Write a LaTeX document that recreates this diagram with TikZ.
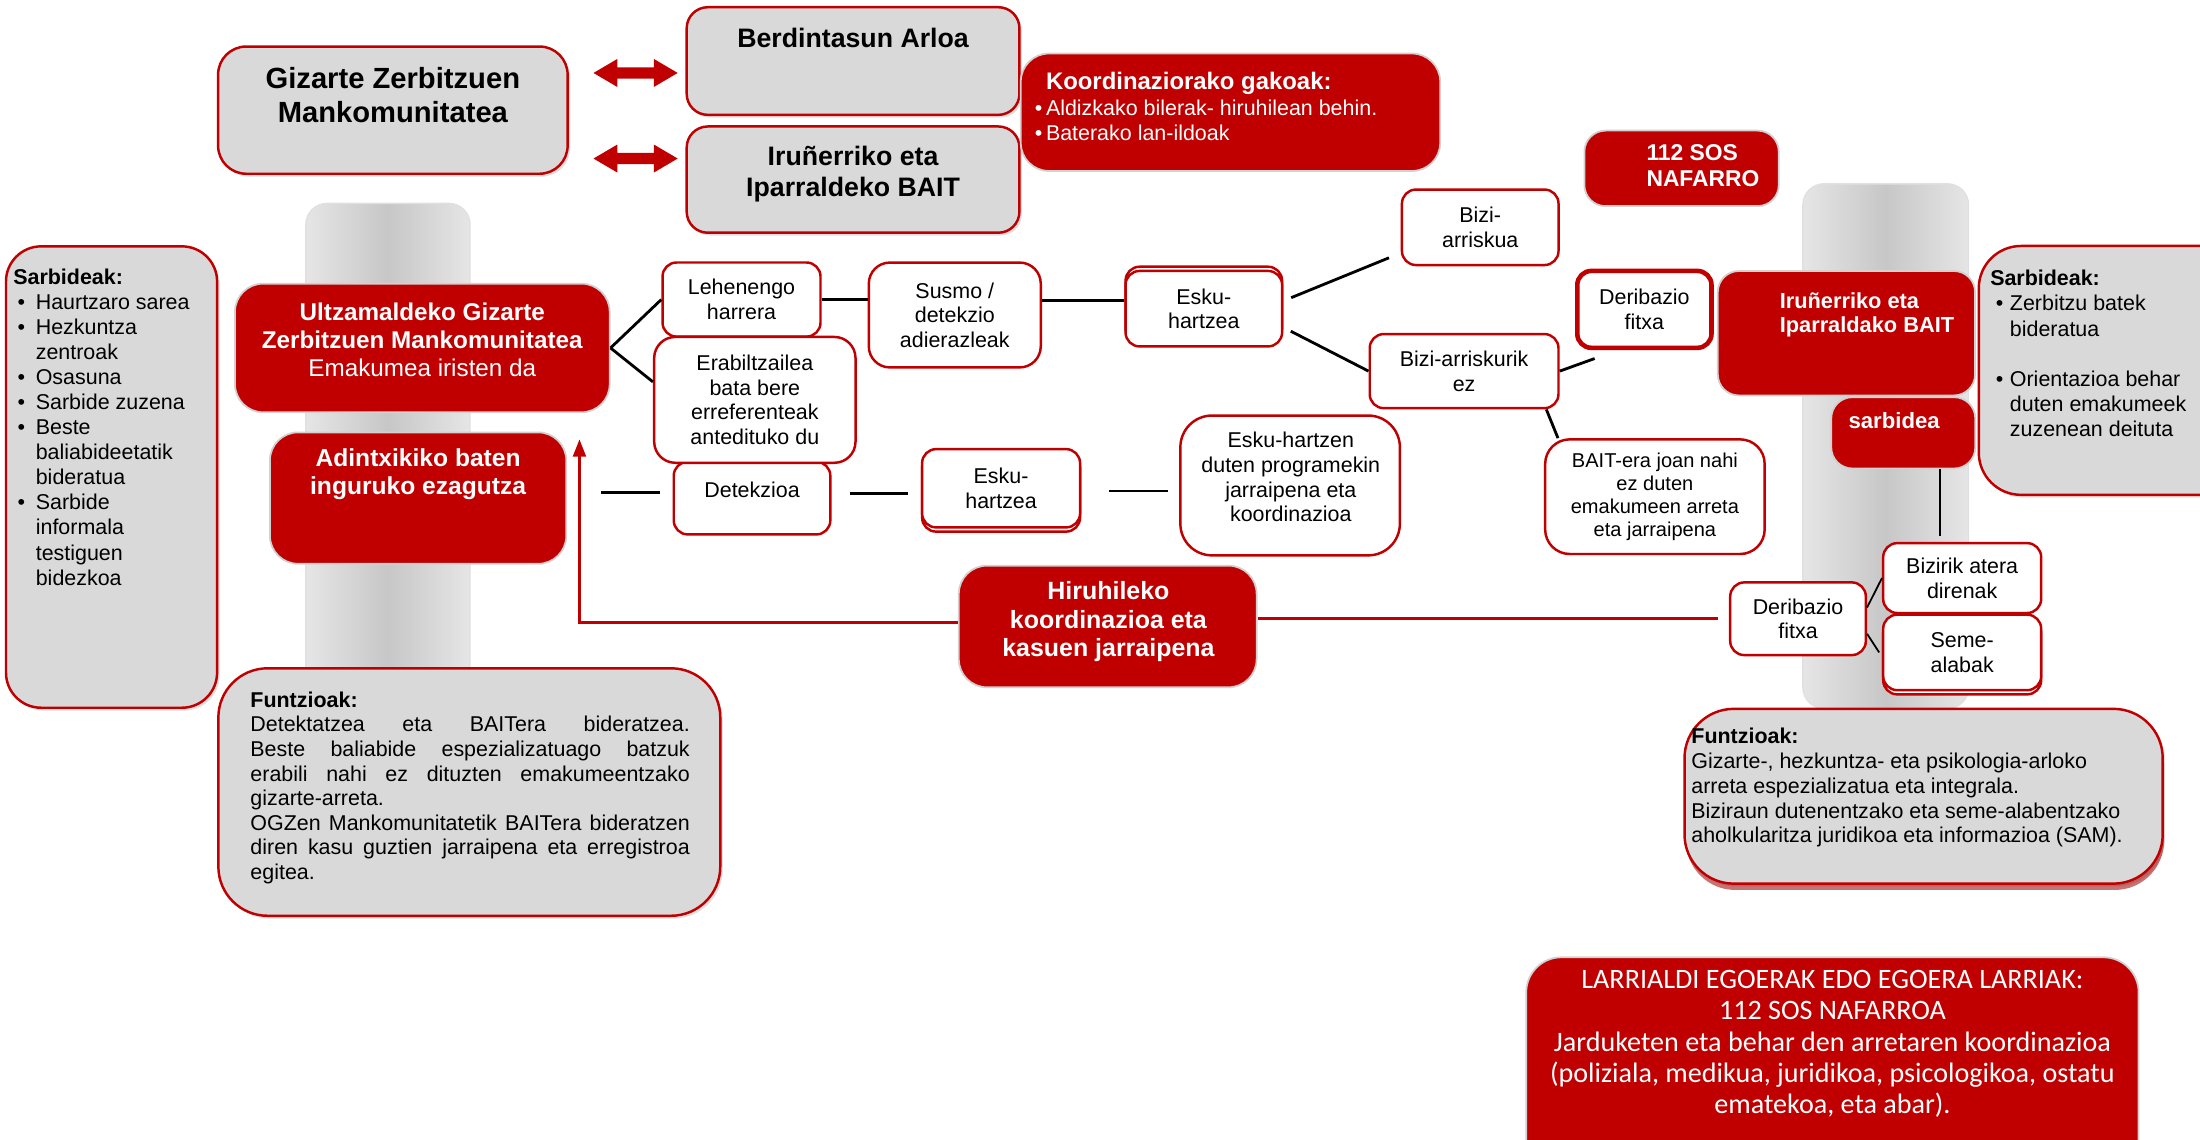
\documentclass[tikz,border=0pt]{standalone}
\usepackage{fontspec}
\setmainfont{Liberation Sans}
\newfontfamily\calib{Carlito}
\usetikzlibrary{calc,arrows.meta,shadows}
\definecolor{rd}{HTML}{C00000}
\definecolor{gr}{HTML}{D9D9D9}
\newcommand\myfs[2]{\fontsize{#1pt}{#2pt}\selectfont}
\newcommand\mybox[7]{\node[#1, minimum width={(#5-#3)*0.3978pt}, minimum height={(#6-#4)*0.3978pt}] (#2) at ({(#3+#5)/2},{(#4+#6)/2}) {#7};}
\newcommand\bulA{\makebox[3.2pt][l]{\textbullet}}
\newcommand\bulB{\hspace*{1.2pt}\makebox[5.2pt][l]{\textbullet}}
\newcommand\indB{\hspace*{6.4pt}}
\newcommand\bulC{\hspace*{1.6pt}\makebox[4pt][l]{\textbullet}}
\newcommand\indC{\hspace*{5.6pt}}
\newcommand\jl[1]{\makebox[125pt][s]{#1}}
\tikzset{
 wbox/.style={draw=rd, fill=white, line width=0.7pt, rounded corners=4pt, inner sep=0pt, align=center, font=\myfs{6.1}{7}},
 gbox/.style={draw=rd, fill=gr, line width=0.7pt, rounded corners=6pt, inner sep=0pt, drop shadow={opacity=0.25, shadow xshift=0.7pt, shadow yshift=-0.8pt}},
 rbox/.style={draw=black!18, fill=rd, line width=0.5pt, rounded corners=6pt, inner sep=0pt, text=white, align=center},
 txt/.style={inner sep=0pt, align=center},
 wtxt/.style={inner sep=0pt, align=center, text=white},
 conn/.style={line width=0.8pt, black},
 rconn/.style={line width=0.9pt, rd},
 bar/.style={left color=black!10, right color=black!10, middle color=black!22, draw=black!12, line width=0.4pt}
}
\begin{document}
\begin{tikzpicture}[x=0.14031mm, y=-0.14031mm]
\path[use as bounding box] (0,0) rectangle (1568,812);
\clip (0,0) rectangle (1568,812);
\fill[white] (0,0) rectangle (1568,812);

% background columns
\path[bar, rounded corners=6pt] (218,145) rectangle (335,500);
\path[bar, rounded corners=6pt] (1285,131) rectangle (1403,505);

% top row
\mybox{gbox, rounded corners=8pt}{giz}{155}{33}{405}{124}{}
\node[txt, font=\bfseries\myfs{8.3}{9.6}] (gizt) at (280,68) {Gizarte Zerbitzuen\\Mankomunitatea};
\mybox{gbox}{berd}{489}{5}{727}{82}{}
\node[txt, font=\bfseries\myfs{7.6}{8.6}] (berdt) at (608,27) {Berdintasun Arloa};
\mybox{gbox}{baitg}{489}{90}{727}{166}{}
\node[txt, font=\bfseries\myfs{7.6}{8.6}] (baitgt) at (608,124) {Iruñerriko eta\\Iparraldeko BAIT};

\fill[rd] (423,52) -- (440,42) -- (440,48) -- (466,48) -- (466,42) -- (483,52) -- (466,62) -- (466,56) -- (440,56) -- (440,62) -- cycle;
\fill[rd] (423,113) -- (440,103) -- (440,109) -- (466,109) -- (466,103) -- (483,113) -- (466,123) -- (466,117) -- (440,117) -- (440,123) -- cycle;

\mybox{rbox, rounded corners=8pt}{koord}{727}{38}{1027}{122}{}
\node[inner sep=0pt, anchor=west, align=left, text=white, font=\myfs{6.1}{7.2}] (koordt) at (737,76)
 {\hspace*{3.2pt}{\bfseries\myfs{6.8}{7.2}Koordinaziorako gakoak:}\\\bulA Aldizkako bilerak- hiruhilean behin.\\\bulA Baterako lan-ildoak};

\mybox{rbox}{sos}{1129}{93}{1268}{147}{}
\node[inner sep=0pt, anchor=west, align=left, text=white, font=\bfseries\myfs{6.5}{7.6}] (sost) at (1173,118) {112 SOS\\NAFARRO};

% left side
\mybox{gbox, rounded corners=10pt}{sarL}{4}{175}{155}{505}{}
\node[inner sep=0pt, anchor=west, align=left, font=\myfs{6.1}{7.12}] (sarLt) at (9,304.5)
 {\textbf{Sarbideak:}\\\bulB Haurtzaro sarea\\\bulB Hezkuntza\\\indB zentroak\\\bulB Osasuna\\\bulB Sarbide zuzena\\\bulB Beste\\\indB baliabideetatik\\\indB bideratua\\\bulB Sarbide\\\indB informala\\\indB testiguen\\\indB bidezkoa};

\mybox{rbox, rounded corners=8pt}{ult}{167}{202}{435}{294}{}
\node[wtxt, font=\myfs{6.9}{8}] (ultt) at (301,242) {\textbf{Ultzamaldeko Gizarte}\\\textbf{Zerbitzuen Mankomunitatea}\\Emakumea iristen da};
\mybox{rbox, rounded corners=8pt}{adin}{192}{308}{404}{402}{}
\node[wtxt, font=\bfseries\myfs{7}{8}] (adint) at (298,338) {Adintxikiko baten\\inguruko ezagutza};

% middle flow
\mybox{wbox}{leh}{472}{187}{585}{240}{Lehenengo\\harrera}
\mybox{wbox}{det}{480}{329}{592}{381}{}
\node[txt, font=\myfs{6.1}{7}] (dett) at (536,349) {Detekzioa};
\mybox{wbox, rounded corners=6pt}{erab}{466}{240}{610}{330}{Erabiltzailea\\bata bere\\erreferenteak\\antedituko du}
\mybox{wbox, rounded corners=6pt}{sus}{619}{187}{742}{262}{Susmo /\\detekzio\\adierazleak}
\mybox{wbox}{esku1s}{802}{190}{914}{244}{}
\mybox{wbox}{esku1}{802}{193}{914}{247}{Esku-\\hartzea}
\mybox{wbox}{bizi}{999}{135}{1111}{189}{Bizi-\\arriskua}
\mybox{wbox}{brez}{976}{238}{1111}{291}{Bizi-arriskurik\\ez}
\mybox{wbox, line width=1.3pt}{der1}{1124}{193}{1220}{248}{Deribazio\\fitxa}
\mybox{wbox, rounded corners=7pt, font=\myfs{5.7}{6.5}}{baitera}{1101}{313}{1258}{395}{BAIT-era joan nahi\\ez duten\\emakumeen arreta\\eta jarraipena}

\mybox{wbox}{esku2s}{657}{323}{770}{379}{}
\mybox{wbox}{esku2}{657}{320}{770}{376}{Esku-\\hartzea}
\mybox{wbox, rounded corners=9pt}{ehz}{841}{296}{998}{396}{}
\node[txt, font=\myfs{6.1}{7}] (ehzt) at (920,340) {Esku-hartzen\\duten programekin\\jarraipena eta\\koordinazioa};

\mybox{rbox, rounded corners=8pt}{hiru}{683}{403}{896}{490}{}
\node[wtxt, font=\bfseries\myfs{7.1}{8}] (hirut) at (790,443) {Hiruhileko\\koordinazioa eta\\kasuen jarraipena};

% right side
\mybox{rbox}{bait2}{1224}{193}{1408}{282}{}
\node[inner sep=0pt, anchor=west, align=left, text=white, font=\bfseries\myfs{6.2}{6.9}] (bait2t) at (1268,224.5) {Iruñerriko eta\\Iparraldako BAIT};
\mybox{rbox}{sarb}{1305}{283}{1408}{334}{}
\node[wtxt, font=\bfseries\myfs{6.3}{7}] (sarbt) at (1350,300) {sarbidea};

\mybox{gbox, rounded corners=12pt}{sarR}{1410}{175}{1600}{353}{}
\node[inner sep=0pt, anchor=west, align=left, font=\myfs{6.1}{7.16}] (sarRt) at (1418,252)
 {\textbf{Sarbideak:}\\\bulC Zerbitzu batek\\\indC bideratua\\[7.16pt]\bulC Orientazioa behar\\\indC duten emakumeek\\\indC zuzenean deituta};

\mybox{wbox}{der2}{1233}{415}{1330}{467}{Deribazio\\fitxa}
\mybox{wbox}{biz}{1342}{387}{1455}{437}{Bizirik atera\\direnak}
\mybox{wbox}{semes}{1342}{441}{1455}{495}{}
\mybox{wbox}{seme}{1342}{438}{1455}{492}{Seme-\\alabak}

% functions boxes
\mybox{gbox, rounded corners=14pt}{funL}{155}{476}{514}{653}{}
\node[inner sep=0pt, anchor=west, align=left, font=\myfs{6.1}{7}] (funLt) at (178,561.5)
 {\textbf{Funtzioak:}\\\jl{Detektatzea eta BAITera bideratzea.}\\\jl{Beste baliabide espezializatuago batzuk}\\\jl{erabili nahi ez dituzten emakumeentzako}\\gizarte-arreta.\\\jl{OGZen Mankomunitatetik BAITera bideratzen}\\\jl{diren kasu guztien jarraipena eta erregistroa}\\egitea.};

\mybox{gbox, rounded corners=14pt, drop shadow={shadow xshift=0.4pt, shadow yshift=-1.8pt, fill=rd!80!black, opacity=0.55}}{funR}{1200}{505}{1542}{630}{}
\node[inner sep=0pt, anchor=west, align=left, font=\myfs{6.1}{7.05}] (funRt) at (1205,561.5)
 {\textbf{Funtzioak:}\\Gizarte-, hezkuntza- eta psikologia-arloko\\arreta espezializatua eta integrala.\\Biziraun dutenentzako eta seme-alabentzako\\aholkularitza juridikoa eta informazioa (SAM).};

\mybox{rbox, rounded corners=10pt}{larr}{1087}{682}{1525}{840}{}
\node[wtxt, font=\calib\myfs{8}{8.95}] (larrt) at (1306,744) {LARRIALDI EGOERAK EDO EGOERA LARRIAK:\\112 SOS NAFARROA\\Jarduketen eta behar den arretaren koordinazioa\\(poliziala, medikua, juridikoa, psicologikoa, ostatu\\ematekoa, eta abar).};

% connectors
\draw[conn] (ult.east) -- (leh.west);
\draw[conn] (ult.east) -- ($(erab.north west)!0.36!(erab.south west)$);
\draw[conn] (leh.east) -- (leh.east -| sus.west);
\coordinate (e1w) at ($(esku1.north west)!0.4!(esku1.south west)$);
\draw[conn] (sus.east |- e1w) -- (e1w);
\coordinate (e1a) at ($(esku1.north east)!0.4!(esku1.south east)$);
\coordinate (e1b) at ($(esku1.north east)!0.74!(esku1.south east)$);
\draw[conn, shorten <=2.4pt, shorten >=3.6pt] (e1a) -- ($(bizi.north west)!0.83!(bizi.south west)$);
\draw[conn, shorten <=2.4pt] (e1b) -- (brez.west);
\draw[conn] (brez.east) -- ($(der1.south west)+(14,6)$);
\draw[conn] ($(brez.south west)!0.93!(brez.south east)$) -- ($(baitera.north west)+(10,0)$);
\draw[conn, shorten <=9.5pt, shorten >=3.6pt] ($(adin.east)+(0,-4)$) -- ($(det.west)+(0,-4)$);
\draw[conn, shorten <=5.2pt, shorten >=3.6pt] ($(det.east)+(0,-3)$) -- ($(det.east -| esku2.west)+(0,-3)$);
\draw[conn, shorten <=8pt, shorten >=3.2pt] ($(esku2.east)+(0,2)$) -- ($(esku2.east -| ehz.west)+(0,2)$);
\coordinate (s1) at ($(sarb.south west)+(78,0)$);
\draw[conn, line width=0.6pt, shorten >=1.6pt] (s1) -- (s1 |- biz.north);
\draw[conn, line width=0.5pt] ($(der2.north east)!0.35!(der2.south east)$) -- ($(biz.north west)!0.5!(biz.south west)$);
\draw[conn, line width=0.5pt] ($(der2.north east)!0.7!(der2.south east)$) -- ($(seme.north west)!0.5!(seme.south west)+(-2,0)$);
\draw[rconn, shorten >=3.2pt] (der2.west -| hiru.east) -- (der2.west);
\coordinate (tip) at (413,313);
\draw[rconn, -{Triangle[length=5pt,width=3.6pt]}] ($(hiru.west)+(0,-3)$) -| (tip);
\end{tikzpicture}
\end{document}
